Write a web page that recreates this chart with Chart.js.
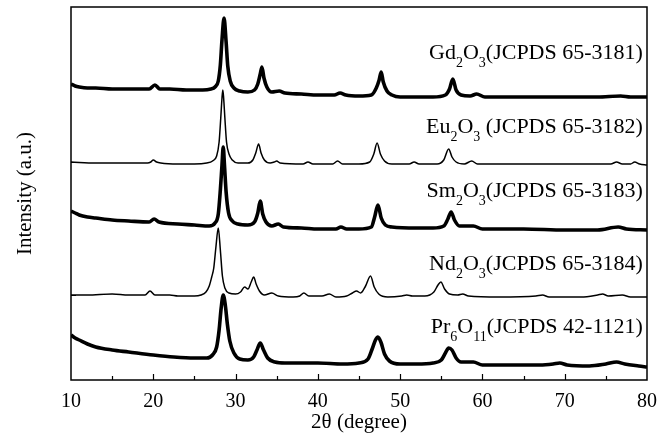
<!DOCTYPE html>
<html>
<head>
<meta charset="utf-8">
<script src="https://cdn.jsdelivr.net/npm/chart.js@4.4.1/dist/chart.umd.min.js"></script>
<style>
  html, body { margin: 0; padding: 0; background: #fff; }
  #wrap { width: 672px; height: 441px; }
</style>
</head>
<body>
<div id="wrap"><canvas id="xrd" width="672" height="441"></canvas></div>
<script>
// [2θ, intensity] pairs; intensity is in stacked plot units
const gdPattern = [[10,296],[10.5,294],[11,293],[12,292],[13,292],[15,291],[17,291],[19.5,291],[20.2,295],[20.8,291],[22,291],[24,290],[26,290],[27,291],[27.5,293],[27.9,299],[28.15,315],[28.35,340],[28.6,362],[28.85,338],[29.05,314],[29.35,299],[29.8,292],[30.5,289],[31.5,288],[32.3,290],[32.7,296],[33.0,306],[33.2,313],[33.45,302],[33.8,293],[34.4,288],[35.3,289],[36,287],[38,286],[40,285],[42,285],[42.7,287],[43.4,285],[45,284],[46.5,285],[47.1,292],[47.45,300],[47.7,308],[47.95,298],[48.4,289],[49,285],[50,283],[52,283],[54,283],[55.5,285],[56.0,291],[56.4,301],[56.8,290],[57.4,285],[58.5,284],[59.3,286],[60.3,283],[63,283],[66,283],[70,283],[74,283],[76.8,284],[78,283],[80,283]];
const euPattern = [[10,218],[13,217],[16,217],[19.3,217],[19.7,218],[20.0,220],[20.4,218],[20.9,217],[23,216],[25,216],[26.5,217],[27.2,219],[27.7,224],[28.0,238],[28.2,262],[28.35,282],[28.45,290],[28.55,282],[28.7,262],[28.9,238],[29.2,226],[29.6,220],[30.3,217],[31.5,217],[32.1,220],[32.45,227],[32.8,236],[33.1,227],[33.5,220],[34.2,217],[34.7,218],[35.0,219],[35.4,217],[38.2,216],[38.8,218],[39.4,216],[41.8,216],[42.4,219],[43.0,216],[45,216],[46.3,218],[46.8,226],[47.2,237],[47.6,226],[48.1,219],[49,216],[51.1,216],[51.7,218],[52.3,216],[54.5,216],[55.3,220],[55.9,231],[56.3,223],[56.8,218],[57.8,216],[58.7,219],[59.4,216],[65,216],[70,216],[75.6,216],[76.3,218],[77.0,216],[78.0,216],[78.5,218],[79.1,216],[80,215]];
const smPattern = [[10,169],[10.5,167],[11,165],[12,163],[13,162],[15,160],[17,159],[19.5,158],[20.1,161],[20.7,158],[23,156],[25,155],[26.8,154],[27.5,157],[27.9,166],[28.15,190],[28.35,215],[28.5,233],[28.65,215],[28.85,188],[29.15,167],[29.6,159],[30.3,156],[31.5,155],[32.3,158],[32.7,167],[33.0,179],[33.3,166],[33.7,158],[34.4,154],[35.2,156],[35.8,153],[38,152],[40,151],[42.2,151],[42.8,153],[43.5,151],[45,151],[46.5,153],[46.9,163],[47.3,175],[47.7,162],[48.2,155],[49,153],[52,152],[54,152],[55.3,154],[55.8,161],[56.2,168],[56.6,160],[57.2,154],[58.9,154],[60,151],[65,151],[70,150],[74,150],[76.5,153],[77.5,151],[80,150]];
const ndPattern = [[10,85],[12,85],[15,86],[17,85],[19.0,85],[19.6,89],[20.2,85],[22,85],[23,84],[25,84],[25.8,85],[26.4,88],[26.8,94],[27.1,103],[27.35,112],[27.6,132],[27.9,152],[28.15,130],[28.4,104],[28.7,92],[29.2,87],[30.0,86],[30.6,88],[31.1,93],[31.5,91],[31.9,98],[32.2,103],[32.5,96],[32.9,89],[33.5,85],[34.4,87],[35.2,84],[37,83],[37.8,84],[38.3,87],[38.9,84],[40.5,84],[41.4,86],[42.2,83],[43.5,84],[44.2,87],[44.7,89],[45.2,87],[45.8,94],[46.4,104],[46.85,93],[47.4,86],[48.5,83],[50.2,84],[50.8,85],[51.5,84],[53,84],[54.1,88],[54.6,95],[54.95,98],[55.4,91],[56,86],[57,85],[57.6,86],[58.3,84],[62,83],[66.5,84],[67.3,85],[68.1,83],[72,83],[74,85],[74.6,86],[75.3,84],[77,85],[78,83],[80,83]];
const prPattern = [[10,45],[10.5,42],[11,40],[12,36],[13,33],[15,30],[17,28],[20,25],[22.5,23],[25,22],[26.5,22],[27.2,25],[27.7,33],[28.0,50],[28.25,72],[28.5,85],[28.75,75],[29.0,56],[29.3,39],[29.8,27],[30.5,21],[31.5,20],[32.2,23],[32.6,30],[33.0,37],[33.4,30],[33.9,22],[34.8,18],[36,17],[40,17],[43,16],[45,17],[46.1,21],[46.6,31],[47.0,40],[47.3,43],[47.7,37],[48.1,26],[48.7,19],[50,16],[52,16],[54,17],[55,20],[55.5,27],[55.9,32],[56.3,30],[56.8,22],[57.4,18],[58.9,18],[60,15],[63,15],[67,15],[68.6,16],[69.4,17],[70.3,15],[73,14],[75,16],[76.3,18],[77.3,16],[79,14],[80,13]];

// sample names, split into [text, isSubscript] runs
const sampleNames = [
  [['Gd',0],['2',1],['O',0],['3',1],['(JCPDS 65-3181)',0]],
  [['Eu',0],['2',1],['O',0],['3',1],[' (JCPDS 65-3182)',0]],
  [['Sm',0],['2',1],['O',0],['3',1],['(JCPDS 65-3183)',0]],
  [['Nd',0],['2',1],['O',0],['3',1],['(JCPDS 65-3184)',0]],
  [['Pr',0],['6',1],['O',0],['11',1],['(JCPDS 42-1121)',0]]
];
const nameLevels = [321, 247, 183, 110, 47];   // baseline of each name, in y units
const yMarks = [85, 218];                       // inner ticks on the left axis

const SERIF = "'Liberation Serif', 'Times New Roman', serif";

const framePlugin = {
  id: 'frame',
  afterDatasetsDraw(chart) {
    const { ctx, chartArea: a, scales: { x, y } } = chart;
    ctx.save();
    ctx.strokeStyle = '#000';
    ctx.lineWidth = 1.5;
    ctx.strokeRect(a.left, a.top, a.right - a.left, a.bottom - a.top);

    // inward ticks
    ctx.lineWidth = 1.2;
    ctx.beginPath();
    for (let v = 15; v < 80; v += 5) {
      const px = Math.round(x.getPixelForValue(v)) + 0.5;
      const len = v % 10 === 0 ? 6 : 4;
      ctx.moveTo(px, a.bottom);
      ctx.lineTo(px, a.bottom - len);
    }
    yMarks.forEach(v => {
      const py = Math.round(y.getPixelForValue(v)) + 0.5;
      ctx.moveTo(a.left, py);
      ctx.lineTo(a.left + 5, py);
    });
    ctx.stroke();

    // sample names, right aligned near the right frame
    ctx.fillStyle = '#000';
    ctx.textBaseline = 'alphabetic';
    ctx.textAlign = 'left';
    const big = '22px ' + SERIF, small = '14px ' + SERIF;
    const right = x.getPixelForValue(79.5);
    sampleNames.forEach((runs, i) => {
      let w = 0;
      runs.forEach(([t, sub]) => { ctx.font = sub ? small : big; w += ctx.measureText(t).width; });
      let cx = right - w;
      const base = y.getPixelForValue(nameLevels[i]);
      runs.forEach(([t, sub]) => {
        ctx.font = sub ? small : big;
        ctx.fillText(t, cx, sub ? base + 8 : base);
        cx += ctx.measureText(t).width;
      });
    });
    ctx.restore();
  }
};

const patterns = [gdPattern, euPattern, smPattern, ndPattern, prPattern];
const noisy = [true, false, true, false, true];

new Chart(document.getElementById('xrd'), {
  type: 'line',
  data: {
    datasets: patterns.map((p, i) => ({
      data: p.map(([x, y]) => ({ x, y })),
      borderColor: '#000',
      borderWidth: noisy[i] ? 3.6 : 1.5,
      pointRadius: 0,
      cubicInterpolationMode: 'monotone',
      fill: false
    }))
  },
  options: {
    responsive: false,
    animation: false,
    devicePixelRatio: 1,
    layout: { padding: { top: 7, right: 25, left: 0, bottom: 0 } },
    plugins: { legend: { display: false }, tooltip: { enabled: false } },
    scales: {
      x: {
        type: 'linear', min: 10, max: 80,
        afterFit: s => { s.height = 61; },
        grid: { display: false, drawTicks: false },
        border: { display: false },
        ticks: { stepSize: 10, padding: 10, autoSkip: false, maxRotation: 0, color: '#000',
                 font: { family: SERIF, size: 20 } },
        title: { display: true, text: '2θ (degree)', color: '#000',
                 font: { family: SERIF, size: 21 }, padding: { top: 0, bottom: 6 } }
      },
      y: {
        min: 0, max: 373,
        afterFit: s => { s.width = 71; },
        grid: { display: false, drawTicks: false },
        border: { display: false },
        ticks: { display: false },
        title: { display: true, text: 'Intensity (a.u.)', color: '#000',
                 font: { family: SERIF, size: 21 }, padding: { top: 13, bottom: 0 } }
      }
    }
  },
  plugins: [framePlugin]
});
</script>
</body>
</html>
